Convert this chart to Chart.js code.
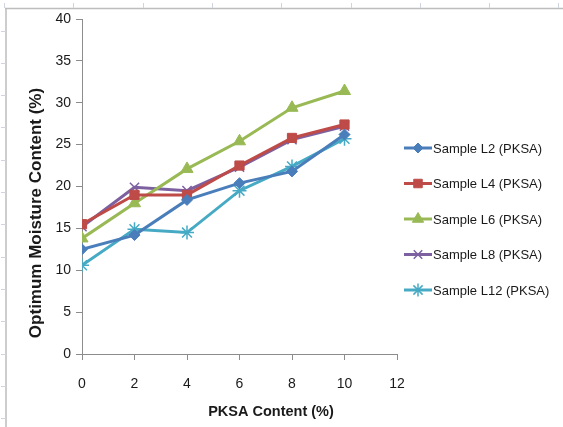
<!DOCTYPE html>
<html>
<head>
<meta charset="utf-8">
<script src="https://cdn.jsdelivr.net/npm/chart.js@4"></script>
<style>
  html, body { margin: 0; padding: 0; background: #ffffff; }
  #wrap { width: 563px; height: 427px; }
</style>
</head>
<body>
<div id="wrap"><canvas id="c" width="563" height="427"></canvas></div>
<script>
// PKSA content (%) on the x axis
const pksaContent = [0, 2, 4, 6, 8, 10];
const xTicks = [0, 2, 4, 6, 8, 10, 12];
const yTicks = [0, 5, 10, 15, 20, 25, 30, 35, 40];

// Optimum moisture content (%) for each sample
const sampleL2 = [12.5, 14.2, 18.4, 20.4, 21.8, 26.2];
const sampleL4 = [15.5, 19.0, 19.0, 22.5, 25.8, 27.4];
const sampleL6 = [13.8, 18.0, 22.1, 25.4, 29.4, 31.4];
const sampleL8 = [15.2, 19.9, 19.5, 22.3, 25.6, 27.2];
const sampleL12 = [10.6, 14.9, 14.5, 19.5, 22.4, 25.7];

const seriesNames = ['Sample L2 (PKSA)', 'Sample L4 (PKSA)', 'Sample L6 (PKSA)', 'Sample L8 (PKSA)', 'Sample L12 (PKSA)'];
const seriesValues = [sampleL2, sampleL4, sampleL6, sampleL8, sampleL12];

const xTitle = 'PKSA Content (%)';
const yTitle = 'Optimum Moisture Content (%)';

const styles = [
  { color: '#4A7EBB', point: 'rectRot', r: 5.5 },
  { color: '#BE4B48', point: 'rect', r: 6.5 },
  { color: '#98B954', point: 'triangle', r: 7 },
  { color: '#7D60A0', point: 'crossRot', r: 6.5 },
  { color: '#46AAC5', point: 'star', r: 7 }
];

const FONT = '"Liberation Sans", Arial, sans-serif';
const TEXT = '#1a1a1a';

const datasets = seriesValues.map((vals, i) => ({
  label: seriesNames[i],
  data: pksaContent.map((x, j) => ({ x: x, y: vals[j] })),
  borderColor: styles[i].color,
  backgroundColor: styles[i].color,
  borderWidth: 3,
  pointStyle: styles[i].point,
  pointRadius: styles[i].r,
  pointBorderWidth: (styles[i].point === 'crossRot' || styles[i].point === 'star') ? 1.5 : 1,
  pointBorderColor: styles[i].color,
  pointBackgroundColor: styles[i].color,
  tension: 0
}));

// Thin grey page frame with small tick marks along the top and left edges
const framePlugin = {
  id: 'frame',
  beforeDraw(chart) {
    const ctx = chart.ctx;
    ctx.save();
    ctx.strokeStyle = '#BDBDBD';
    ctx.lineWidth = 1.5;
    ctx.beginPath();
    ctx.moveTo(5, 8.5); ctx.lineTo(563, 8.5);
    ctx.moveTo(6, 8); ctx.lineTo(6, 427);
    ctx.stroke();
    ctx.lineWidth = 1;
    ctx.strokeStyle = '#D0D4DC';
    ctx.beginPath();
    for (let x = 4; x < 563; x += 69.3) { ctx.moveTo(Math.round(x) + 0.5, 3); ctx.lineTo(Math.round(x) + 0.5, 8); }
    for (let y = 30.5; y < 427; y += 32.3) { ctx.moveTo(1, Math.round(y) + 0.5); ctx.lineTo(6, Math.round(y) + 0.5); }
    ctx.stroke();
    ctx.restore();
  }
};

// Axis titles, placed a little off the plot centre
const axisTitles = {
  id: 'axisTitles',
  afterDraw(chart) {
    const ctx = chart.ctx;
    ctx.save();
    ctx.fillStyle = TEXT;
    ctx.textAlign = 'center';
    ctx.textBaseline = 'middle';
    ctx.font = 'bold 14.5px ' + FONT;
    ctx.fillText(xTitle, 271, 412);
    ctx.translate(36, 213);
    ctx.rotate(-Math.PI / 2);
    ctx.font = 'bold 17px ' + FONT;
    ctx.fillText(yTitle, 0, 0);
    ctx.restore();
  }
};

// Legend on the right: a short line with the series marker, then the label
const sideLegend = {
  id: 'sideLegend',
  afterDraw(chart) {
    const ctx = chart.ctx;
    const x0 = 404, x1 = 432, yStart = 148, step = 35.5;
    ctx.save();
    chart.data.datasets.forEach((ds, i) => {
      const y = yStart + i * step;
      ctx.strokeStyle = ds.borderColor;
      ctx.fillStyle = ds.borderColor;
      ctx.lineWidth = 3;
      ctx.beginPath();
      ctx.moveTo(x0, y); ctx.lineTo(x1, y);
      ctx.stroke();
      ctx.lineWidth = ds.pointBorderWidth;
      Chart.helpers.drawPoint(ctx, { pointStyle: ds.pointStyle, radius: ds.pointRadius - 0.5, borderWidth: ds.pointBorderWidth, rotation: 0 }, (x0 + x1) / 2, y);
      ctx.fillStyle = TEXT;
      ctx.font = '13px ' + FONT;
      ctx.textBaseline = 'middle';
      ctx.textAlign = 'left';
      ctx.fillText(ds.label, x1 + 1, y + 1);
    });
    ctx.restore();
  }
};

new Chart(document.getElementById('c'), {
  type: 'line',
  data: { datasets: datasets },
  options: {
    responsive: false,
    animation: false,
    layout: { padding: { left: 20, right: 166, top: 19, bottom: 4 } },
    plugins: {
      legend: { display: false },
      tooltip: { enabled: false }
    },
    scales: {
      x: {
        type: 'linear',
        min: 0, max: 12,
        afterBuildTicks: s => { s.ticks = xTicks.map(v => ({ value: v })); },
        afterFit: s => { s.height = 69; },
        border: { color: '#8C8C8C', width: 1 },
        grid: { drawOnChartArea: false, drawTicks: true, tickLength: 6, color: '#8C8C8C' },
        ticks: { color: TEXT, font: { family: FONT, size: 14 }, padding: 16, maxRotation: 0 },
        title: { display: false }
      },
      y: {
        min: 0, max: 40,
        afterBuildTicks: s => { s.ticks = yTicks.map(v => ({ value: v })); },
        afterFit: s => { s.width = 62; },
        border: { color: '#8C8C8C', width: 1 },
        grid: { drawOnChartArea: false, drawTicks: true, tickLength: 6, color: '#8C8C8C' },
        ticks: { color: TEXT, font: { family: FONT, size: 14 }, padding: 5 },
        title: { display: false }
      }
    }
  },
  plugins: [framePlugin, axisTitles, sideLegend]
});
</script>
</body>
</html>
